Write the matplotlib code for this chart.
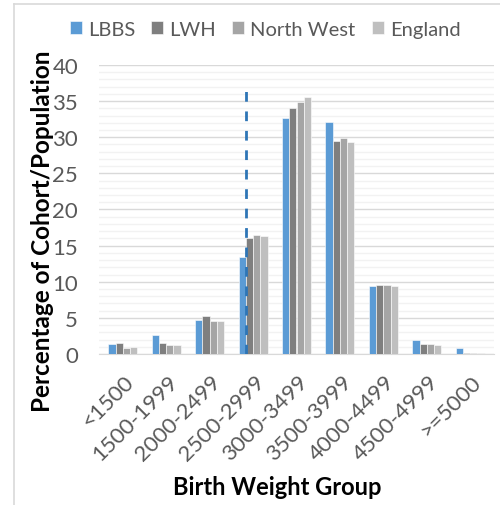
import matplotlib.pyplot as plt
import matplotlib.transforms as mtransforms
import numpy as np
from matplotlib.ticker import MultipleLocator

# data ----------------------------------------------------------------------------------------
groups = ['<1500', '1500-1999', '2000-2499', '2500-2999', '3000-3499',
          '3500-3999', '4000-4499', '4500-4999', '>=5000']
lbbs = [1.4, 2.6, 4.7, 13.4, 32.7, 32.1, 9.4, 1.9, 0.8]
lwh = [1.5, 1.5, 5.3, 16.0, 34.0, 29.5, 9.5, 1.4, 0.15]
north_west = [0.9, 1.2, 4.6, 16.5, 34.9, 29.9, 9.55, 1.4, 0.1]
england = [1.0, 1.2, 4.5, 16.4, 35.5, 29.4, 9.4, 1.3, 0.1]
series_names = ['LBBS', 'LWH', 'North West', 'England']
cutoff_x = 2.84
cutoff_top = 37.6

# style ---------------------------------------------------------------------------------------
plt.rcParams['font.family'] = ['Lato', 'DejaVu Sans']
colors = ['#5B9BD5', '#7F7F7F', '#A5A5A5', '#BFBFBF']

fig = plt.figure(figsize=(5.0, 5.06), dpi=100)
ax = fig.add_axes([0.198, 0.2984, 0.79, 0.5712])

x = np.arange(len(groups))
w = 0.166
for i, (vals, name) in enumerate(zip([lbbs, lwh, north_west, england], series_names)):
    ax.bar(x + (i - 1.5) * w, vals, w, color=colors[i], label=name,
           edgecolor='white', linewidth=0.4, zorder=3)

ax.plot([cutoff_x, cutoff_x], [0, cutoff_top], ls=(0, (3.5, 3.5)), color='#2E75B6', lw=2, zorder=4)

ax.set_ylim(0, 40)
ax.set_xlim(-0.55, len(groups) - 0.45)
ax.yaxis.set_major_locator(MultipleLocator(5))
ax.yaxis.set_minor_locator(MultipleLocator(1))
ax.grid(axis='y', which='major', color='#D9D9D9', lw=1.0, zorder=0)
ax.grid(axis='y', which='minor', color='#F2F2F2', lw=1.0, zorder=0)
for s in ['top', 'right', 'left']:
    ax.spines[s].set_visible(False)
ax.spines['bottom'].set_color('#D9D9D9')
ax.tick_params(axis='both', which='both', length=0, colors='#595959', labelsize=16)
ax.tick_params(axis='y', pad=15)
ax.set_xticks(x)
ax.set_xticklabels(groups, rotation=45, ha='right', va='top', rotation_mode='anchor')
ax.tick_params(axis='x', pad=12)
shift = mtransforms.ScaledTranslation(1 / 100, 0, fig.dpi_scale_trans)
for lab in ax.get_xticklabels():
    lab.set_transform(lab.get_transform() + shift)

fig.text(0.086, 0.543, 'Percentage of Cohort/Population', fontsize=17.5, fontweight='bold',
         rotation=90, ha='center', va='center')
fig.text(0.554, 0.0375, 'Birth Weight Group', fontsize=17, fontweight='bold', ha='center', va='center')

leg = fig.legend(loc='center', bbox_to_anchor=(0.53, 0.94), ncol=4, frameon=False,
                 fontsize=14.5, handlelength=0.6, handleheight=0.6, handletextpad=0.3,
                 columnspacing=0.8, labelcolor='#595959')

# chart border
fig.add_artist(plt.Line2D([0.028, 1.0], [0.99, 0.99], color='#D9D9D9', lw=1.2))
fig.add_artist(plt.Line2D([0.028, 0.028], [0.0, 0.99], color='#D9D9D9', lw=1.2))

plt.savefig('out.png', dpi=100)
